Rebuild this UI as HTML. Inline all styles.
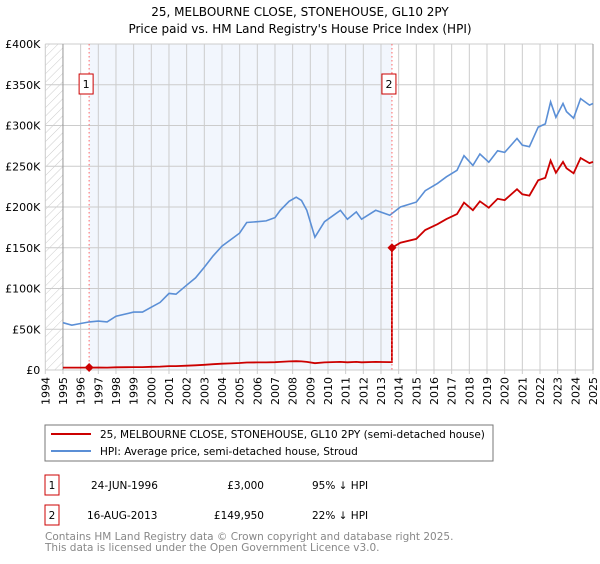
<!DOCTYPE html>
<html><head><meta charset="utf-8"><style>
body{margin:0;background:#fff;font-family:"DejaVu Sans","Liberation Sans",sans-serif;}
svg text{font-family:"DejaVu Sans","Liberation Sans",sans-serif;}
</style></head><body>
<svg id="chart" width="600" height="560" xmlns="http://www.w3.org/2000/svg">
<defs><pattern id="hatch" width="6" height="6" patternUnits="userSpaceOnUse" patternTransform="rotate(45)"><line x1="0" y1="0" x2="0" y2="6" stroke="#ccc" stroke-width="1"/></pattern></defs>
<text x="300" y="16" text-anchor="middle" font-size="12">25, MELBOURNE CLOSE, STONEHOUSE, GL10 2PY</text>
<text x="300" y="33" text-anchor="middle" font-size="12">Price paid vs. HM Land Registry's House Price Index (HPI)</text>
<g id="plot"></g>
<g>
<rect x="45" y="425" width="448" height="36" fill="#fff" stroke="#777"/>
<line x1="51" y1="434" x2="91" y2="434" stroke="#cc0000" stroke-width="2"/>
<text x="100" y="438" font-size="10.5">25, MELBOURNE CLOSE, STONEHOUSE, GL10 2PY (semi-detached house)</text>
<line x1="51" y1="451" x2="91" y2="451" stroke="#5b8fd6" stroke-width="2"/>
<text x="100" y="455" font-size="10.5">HPI: Average price, semi-detached house, Stroud</text>
</g>
<g font-size="10.5">
<rect x="45" y="475" width="14" height="20" fill="#fff" stroke="#cc0000"/>
<text x="52" y="489" text-anchor="middle">1</text>
<text x="91" y="489">24-JUN-1996</text>
<text x="264" y="489" text-anchor="end">£3,000</text>
<text x="312" y="489">95% ↓ HPI</text>
<rect x="45" y="505" width="14" height="20" fill="#fff" stroke="#cc0000"/>
<text x="52" y="519" text-anchor="middle">2</text>
<text x="87" y="519">16-AUG-2013</text>
<text x="264" y="519" text-anchor="end">£149,950</text>
<text x="312" y="519">22% ↓ HPI</text>
</g>
<text x="45" y="540" font-size="10.5" fill="#888">Contains HM Land Registry data © Crown copyright and database right 2025.</text>
<text x="45" y="551" font-size="10.5" fill="#888">This data is licensed under the Open Government Licence v3.0.</text>
</svg>
<script>
const hpiYears=[1995.0,1995.5,1996.0,1996.5,1997.0,1997.5,1998.0,1999.0,1999.5,2000.0,2000.5,2001.0,2001.4,2002.0,2002.5,2003.0,2003.5,2004.0,2004.5,2005.0,2005.4,2006.0,2006.5,2007.0,2007.3,2007.8,2008.2,2008.5,2008.8,2009.26,2009.8,2010.7,2011.1,2011.6,2011.9,2012.7,2013.5,2014.1,2015.0,2015.5,2016.2,2016.7,2017.3,2017.7,2018.2,2018.6,2019.1,2019.6,2020.0,2020.7,2021.0,2021.4,2021.9,2022.3,2022.6,2022.9,2023.3,2023.5,2023.9,2024.3,2024.8,2025.0];
const hpiValues=[58000,55000,57000,59000,60000,59000,66000,71000,71000,77000,83000,94000,93000,104000,113000,126000,140000,152000,160000,168000,181000,182000,183000,187000,196000,207000,212000,208000,196000,163000,182000,196000,185000,194000,185000,196000,190000,200000,206000,220000,229000,237000,245000,263000,251000,265000,255000,269000,267000,284000,276000,274000,298000,302000,329000,310000,327000,317000,309000,333000,325000,327000];
const saleYears=[1996.48,2013.62];
const salePrices=[3000,149950];
const yTicks=[0,50000,100000,150000,200000,250000,300000,350000,400000];
const yTickLabels=["£0","£50K","£100K","£150K","£200K","£250K","£300K","£350K","£400K"];
const xTicks=[1994,1995,1996,1997,1998,1999,2000,2001,2002,2003,2004,2005,2006,2007,2008,2009,2010,2011,2012,2013,2014,2015,2016,2017,2018,2019,2020,2021,2022,2023,2024,2025];

const NS="http://www.w3.org/2000/svg";
const X0=45.3,X1=593,Y0=370,Y1=44,xMin=1994,xMax=2025,yMax=400000;
const xs=v=>X0+(v-xMin)/(xMax-xMin)*(X1-X0);
const ys=v=>Y0-v/yMax*(Y0-Y1);
const plot=document.getElementById('plot');
function mk(tag,attrs,parent){const e=document.createElementNS(NS,tag);for(const k in attrs)e.setAttribute(k,attrs[k]);(parent||plot).appendChild(e);return e;}
function hpiAt(t){if(t<=hpiYears[0])return hpiValues[0];for(let i=1;i<hpiYears.length;i++){if(t<=hpiYears[i]){const f=(t-hpiYears[i-1])/(hpiYears[i]-hpiYears[i-1]);return hpiValues[i-1]+f*(hpiValues[i]-hpiValues[i-1]);}}return hpiValues[hpiValues.length-1];}

let r=mk('rect',{x:X0,y:Y1,width:X1-X0,height:Y0-Y1,fill:'#fff'});


r=mk('rect',{x:xs(saleYears[0]),y:Y1,width:xs(saleYears[1])-xs(saleYears[0]),height:Y0-Y1,fill:'#f2f6fd'});


r=mk('rect',{x:X0,y:Y1,width:xs(1995)-X0,height:Y0-Y1,fill:'url(#hatch)'});



xTicks.forEach(t=>{
  const x=xs(t);
  const g=mk('line',{x1:x,y1:Y1,x2:x,y2:Y0+4,stroke:'#ccc','stroke-width':1});
  
  
  const tx=mk('text',{x:0,y:0,'font-size':11,'text-anchor':'end',transform:`translate(${x+4},${Y0+7}) rotate(-90)`});
  tx.textContent=t;
  
  
});
yTicks.forEach((t,i)=>{
  const y=ys(t);
  const g=mk('line',{x1:X0,y1:y,x2:X1,y2:y,stroke:'#ccc','stroke-width':1});
  
  
  const tx=mk('text',{x:X0-5,y:y+4,'font-size':11,'text-anchor':'end'});
  tx.textContent=yTickLabels[i];
  
  
});
let ax=mk('line',{x1:xs(1995),y1:Y1,x2:xs(1995),y2:Y0,stroke:'#999'});


ax=mk('line',{x1:X1,y1:Y1,x2:X1,y2:Y0,stroke:'#999'});



let d=hpiYears.map((t,i)=>(i?'L':'M')+xs(t).toFixed(1)+','+ys(hpiValues[i]).toFixed(1)).join('');
let hp=mk('path',{d:d,fill:'none',stroke:'#5b8fd6','stroke-width':1.6});



const pts=[];
const tSet=[saleYears[0]].concat(hpiYears.filter(t=>t>saleYears[0]&&t<saleYears[1]));
tSet.forEach(t=>pts.push([t,salePrices[0]*hpiAt(t)/hpiAt(saleYears[0])]));
pts.push([saleYears[1],salePrices[0]*hpiAt(saleYears[1])/hpiAt(saleYears[0])]);
pts.push([saleYears[1],salePrices[1]]);
hpiYears.filter(t=>t>saleYears[1]).forEach(t=>pts.push([t,salePrices[1]*hpiAt(t)/hpiAt(saleYears[1])]));
d='M'+xs(1995)+','+ys(salePrices[0]*hpiAt(1995)/hpiAt(saleYears[0])).toFixed(1)+pts.map(p=>'L'+xs(p[0]).toFixed(1)+','+ys(p[1]).toFixed(1)).join('');
let pp=mk('path',{d:d,fill:'none',stroke:'#cc0000','stroke-width':1.8});



saleYears.forEach((t,i)=>{
  const x=xs(t);
  const l=mk('line',{x1:x,y1:Y1,x2:x,y2:Y0,stroke:'#ff6666','stroke-width':1,'stroke-dasharray':'1.5,2.5'});
  
  
  const y=ys(salePrices[i]);
  const m=mk('path',{d:`M${x},${y-4.5}L${x+4.5},${y}L${x},${y+4.5}L${x-4.5},${y}Z`,fill:'#cc0000'});
  
  
  const b=mk('rect',{x:x-10,y:74,width:14,height:20,fill:'#fff',stroke:'#cc0000'});
  
  
  const tx=mk('text',{x:x-3,y:88,'font-size':11,'text-anchor':'middle'});
  tx.textContent=String(i+1);
  
  
});
</script>
</body></html>
